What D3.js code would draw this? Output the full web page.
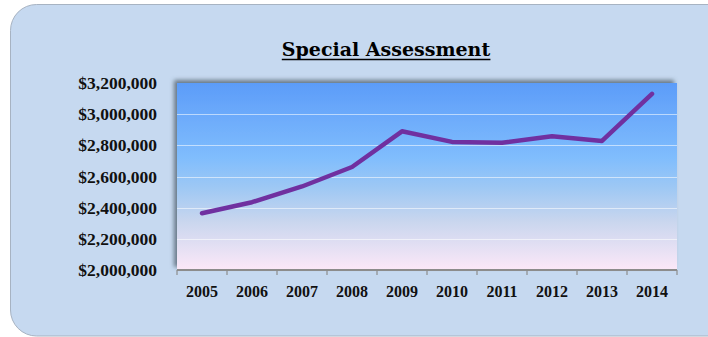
<!DOCTYPE html>
<html>
<head>
<meta charset="utf-8">
<script src="https://cdn.jsdelivr.net/npm/d3@7"></script>
<style>
  html, body { margin: 0; padding: 0; background: #ffffff; }
  svg { display: block; }
</style>
</head>
<body>
<svg id="chart" width="708" height="337"></svg>
<script>
const years = ["2005","2006","2007","2008","2009","2010","2011","2012","2013","2014"];
const assessment = [2364000, 2435000, 2536000, 2661000, 2890000, 2822000, 2817000, 2858000, 2828000, 3130000];
const yTickValues = [2000000, 2200000, 2400000, 2600000, 2800000, 3000000, 3200000];
const yTickLabels = ["$2,000,000","$2,200,000","$2,400,000","$2,600,000","$2,800,000","$3,000,000","$3,200,000"];
const titleText = "Special Assessment";

const svg = d3.select("#chart");
const W = 708, H = 337;
const plot = { left: 177, right: 677, top: 83, bottom: 270 };

const defs = svg.append("defs");
const grad = defs.append("linearGradient").attr("id", "bg").attr("x1", 0).attr("y1", 0).attr("x2", 0).attr("y2", 1);
[["0%", "#5c9cf9"], ["40%", "#80bdfd"], ["56%", "#9ec8f4"], ["74%", "#c9d6ee"], ["100%", "#fce8f8"]]
  .forEach(([o, c]) => grad.append("stop").attr("offset", o).attr("stop-color", c));

const sh = defs.append("filter").attr("id", "shadow").attr("x", "-10%").attr("y", "-20%").attr("width", "120%").attr("height", "140%");
sh.append("feDropShadow").attr("dx", -3).attr("dy", -3).attr("stdDeviation", 2.2)
  .attr("flood-color", "#4a5866").attr("flood-opacity", 0.75);

// panel
svg.append("rect")
  .attr("x", 10.5).attr("y", 4.5).attr("width", 730).attr("height", 331.5)
  .attr("rx", 26).attr("ry", 26)
  .attr("fill", "#c6d9f0").attr("stroke", "#a7b3c2").attr("stroke-width", 1);

// title
const title = svg.append("text")
  .attr("x", 386).attr("y", 56)
  .attr("text-anchor", "middle")
  .attr("font-family", "'DejaVu Serif', serif")
  .attr("font-weight", "bold")
  .attr("font-size", 19)
  .attr("fill", "#000")
  .text(titleText);
const tb = title.node().getBBox();
svg.append("line")
  .attr("x1", tb.x).attr("x2", tb.x + tb.width)
  .attr("y1", 59.5).attr("y2", 59.5)
  .attr("stroke", "#000").attr("stroke-width", 1.6);

const x = d3.scaleBand().domain(years).range([plot.left, plot.right]).padding(0);
const y = d3.scaleLinear().domain([2000000, 3200000]).range([plot.bottom, plot.top]);

// plot background
svg.append("rect")
  .attr("x", plot.left).attr("y", plot.top)
  .attr("width", plot.right - plot.left).attr("height", plot.bottom - plot.top)
  .attr("fill", "url(#bg)")
  .attr("filter", "url(#shadow)");

// gridlines
svg.append("g").selectAll("line")
  .data(yTickValues.filter(v => v > 2000000 && v < 3200000))
  .join("line")
  .attr("x1", plot.left).attr("x2", plot.right)
  .attr("y1", d => Math.round(y(d)) + 0.5).attr("y2", d => Math.round(y(d)) + 0.5)
  .attr("stroke", "#ffffff").attr("stroke-opacity", 0.55).attr("stroke-width", 1);

// x axis
const xAxis = d3.axisBottom(x).tickSize(0).tickPadding(16);
const gx = svg.append("g").attr("transform", `translate(0,${plot.bottom})`).call(xAxis);
gx.select(".domain").attr("stroke", "#8c8c8c").attr("stroke-width", 2).attr("d", `M${plot.left},0H${plot.right}`);
gx.selectAll(".tick text")
  .attr("font-family", "'Liberation Serif', serif")
  .attr("font-weight", "bold")
  .attr("font-size", 16)
  .attr("fill", "#111")
  .attr("dy", "0.71em");
// boundary ticks
const boundaries = years.map(yr => x(yr)).concat([plot.right]);
gx.append("g").selectAll("line").data(boundaries).join("line")
  .attr("x1", d => d).attr("x2", d => d)
  .attr("y1", 0).attr("y2", 5)
  .attr("stroke", "#8c8c8c").attr("stroke-width", 1.2);

// y labels
const yAxis = d3.axisLeft(y).tickValues(yTickValues).tickSize(0).tickPadding(0)
  .tickFormat((d, i) => yTickLabels[i]);
const gy = svg.append("g").attr("transform", "translate(157,0)").call(yAxis);
gy.select(".domain").remove();
gy.selectAll(".tick text")
  .attr("font-family", "'Liberation Serif', serif")
  .attr("font-weight", "bold")
  .attr("font-size", 17.5)
  .attr("fill", "#111");

// line
const line = d3.line()
  .x((d, i) => x(years[i]) + x.bandwidth() / 2)
  .y(d => y(d));
svg.append("path")
  .datum(assessment)
  .attr("d", line)
  .attr("fill", "none")
  .attr("stroke", "#7030a0")
  .attr("stroke-width", 4.5)
  .attr("stroke-linejoin", "round")
  .attr("stroke-linecap", "round");
</script>
</body>
</html>
